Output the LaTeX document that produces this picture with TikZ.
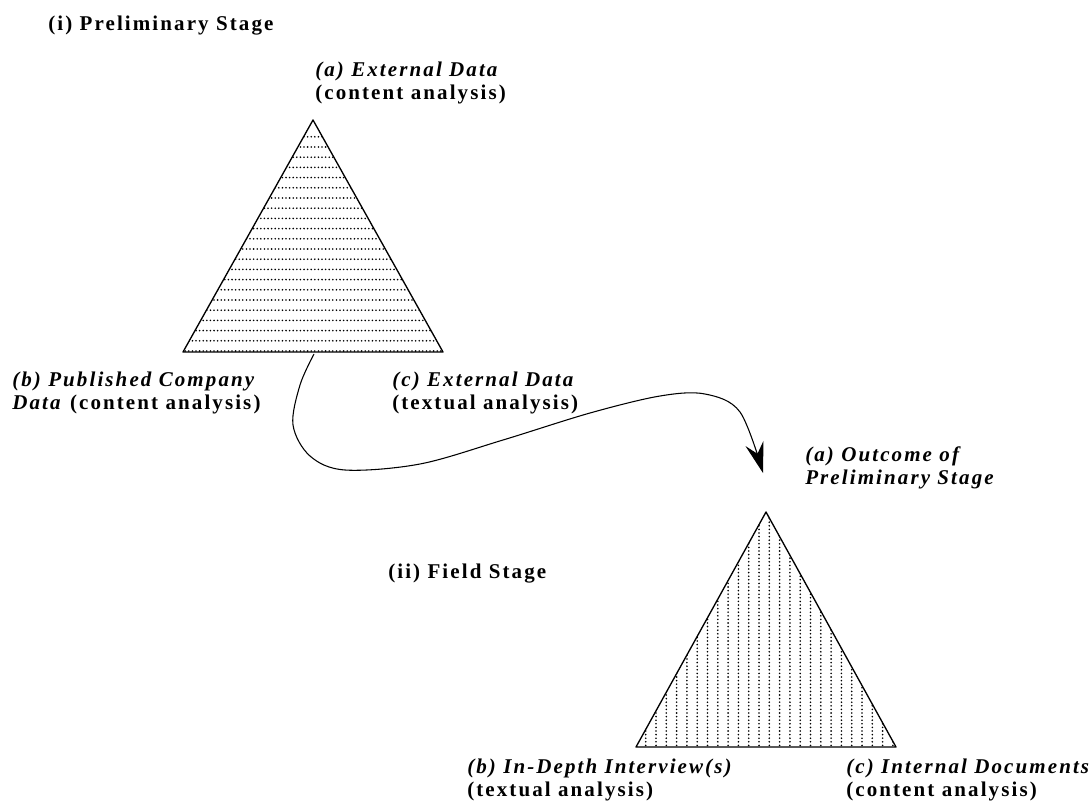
\documentclass[tikz,border=0pt]{standalone}
\usepackage{fontspec}
\setmainfont{Liberation Serif}[LetterSpace=10]
\usetikzlibrary{arrows.meta}

\begin{document}
\begin{tikzpicture}[x=0.75pt,y=-0.75pt,
  lbl/.style={anchor=base west, inner sep=0pt,
    font=\fontsize{15.75}{17.25}\selectfont\bfseries},
  ilbl/.style={lbl, font=\fontsize{15.75}{17.25}\selectfont\bfseries\itshape},
  edge/.style={line width=1pt, line join=round},
  dotline/.style={line width=1.35pt, line cap=round, dash pattern=on 0pt off 2.7pt},
  link/.style={line width=0.8pt, -{Stealth[length=23pt, width=14pt, inset=8pt]}}]

\useasboundingbox (0,0) rectangle (1092,806);

% ---- preliminary stage triangle (horizontal dot rows)
\coordinate (A1) at (313,120);
\coordinate (B1) at (183,352);
\coordinate (C1) at (443,352);
\begin{scope}
  \clip (A1) -- (B1) -- (C1) -- cycle;
  \foreach \k in {0,...,21}
    \draw[dotline] (178,{351-10.2*\k}) -- (448,{351-10.2*\k});
\end{scope}
\draw[edge] (A1) -- (B1) -- (C1) -- cycle;

% ---- field stage triangle (vertical dot columns)
\coordinate (A2) at (766,512);
\coordinate (B2) at (636,747);
\coordinate (C2) at (896,747);
\begin{scope}
  \clip (A2) -- (B2) -- (C2) -- cycle;
  \foreach \k in {-12,...,13}
    \draw[dotline] ({759+10.3*\k},749) -- ({759+10.3*\k},508);
\end{scope}
\draw[edge] (A2) -- (B2) -- (C2) -- cycle;

% ---- headings
\node[lbl] (prelim) at (48,31) {(i) Preliminary Stage};
\node[lbl] (field) at (388,578) {(ii) Field Stage};

% ---- corner labels, preliminary stage
\node[ilbl] (pa1) at (315,77) {(a) External Data};
\node[lbl]  (pa2) at (315,100) {(content analysis)};
\node[ilbl] (pb1) at (12,386) {(b) Published Company};
\node[lbl]  (pb2) at (12,409) {\textit{Data} (content analysis)};
\node[ilbl] (pc1) at (392,386) {(c) External Data};
\node[lbl]  (pc2) at (392,409) {(textual analysis)};

% ---- corner labels, field stage
\node[ilbl] (fa1) at (805,461) {(a) Outcome of};
\node[ilbl] (fa2) at (805,484) {Preliminary Stage};
\node[ilbl] (fb1) at (467,773) {(b) In-Depth Interview(s)};
\node[lbl]  (fb2) at (467,796) {(textual analysis)};
\node[ilbl] (fc1) at (846,773) {(c) Internal Documents};
\node[lbl]  (fc2) at (846,796) {(content analysis)};

% ---- link from the first stage to the second
\coordinate (src) at (314,354);
\coordinate (tip) at (763,473);
\draw[link] plot[smooth, tension=0.55] coordinates
  {(src) (300,385) (293,425) (310,456) (345,470) (420,464) (503,440)
   (590,413) (660,396) (705,394) (740,412) (tip)};

\end{tikzpicture}
\end{document}
